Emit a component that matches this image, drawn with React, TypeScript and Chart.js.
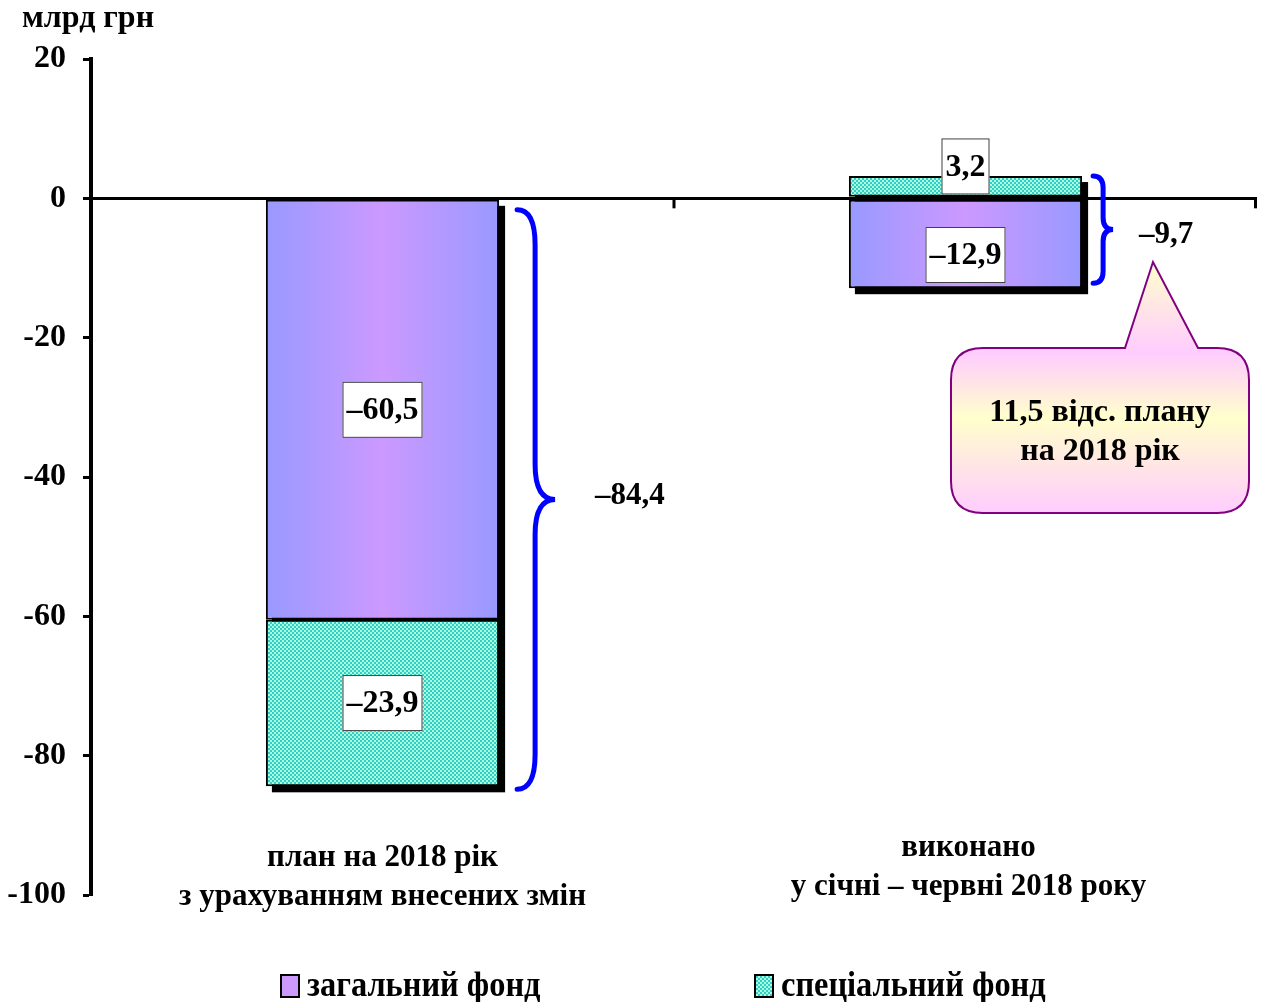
import { useEffect, useRef } from "react";
import { Chart, registerables } from "chart.js";

Chart.register(...registerables);

// ---------- data ----------
const categoryLines: string[][] = [
  ["план на 2018 рік", "з урахуванням внесених змін"],
  ["виконано", "у січні – червні 2018 року"],
];
const generalFund = [-60.5, -12.9];
const specialFund = [-23.9, 3.2];
const seriesNames = ["загальний фонд", "спеціальний фонд"];
const yMin = -100;
const yMax = 20;
const yStep = 20;
const unitLabel = "млрд грн";
const calloutSuffix = " відс. плану";
const calloutLine2 = "на 2018 рік";

const FONT = '"Liberation Serif", "Times New Roman", serif';

function fmt(v: number): string {
  const s = Math.abs(v).toFixed(1).replace(".", ",");
  return (v < 0 ? "–" : "") + s;
}

function makePattern(ctx: CanvasRenderingContext2D) {
  const c = document.createElement("canvas");
  c.width = 4;
  c.height = 4;
  const g = c.getContext("2d")!;
  g.fillStyle = "#A8FFD8";
  g.fillRect(0, 0, 4, 4);
  g.fillStyle = "#33CCCC";
  g.fillRect(0, 0, 2, 2);
  g.fillRect(2, 2, 2, 2);
  return ctx.createPattern(c, "repeat")!;
}

function gradientFor(c: any) {
  const chart = c.chart;
  const xs = chart.scales && chart.scales.x;
  if (!xs || !chart.chartArea) return "#CC99FF";
  const center = xs.getPixelForValue(c.dataIndex);
  const half = ((xs.width / categoryLines.length) * 0.4) / 2;
  const g = chart.ctx.createLinearGradient(center - half, 0, center + half, 0);
  g.addColorStop(0, "#9999FF");
  g.addColorStop(0.5, "#CC99FF");
  g.addColorStop(1, "#9999FF");
  return g;
}

function barExtent(chart: any, i: number) {
  let left = Infinity, right = -Infinity, top = Infinity, bottom = -Infinity;
  for (let d = 0; d < chart.data.datasets.length; d++) {
    const el: any = chart.getDatasetMeta(d).data[i];
    if (!el) continue;
    left = Math.min(left, el.x - el.width / 2);
    right = Math.max(right, el.x + el.width / 2);
    top = Math.min(top, el.y, el.base);
    bottom = Math.max(bottom, el.y, el.base);
  }
  return { left, right, top, bottom };
}

function drawBrace(ctx: CanvasRenderingContext2D, x: number, y0: number, y1: number, d1: number, d2: number, r: number) {
  const xm = x + d1;
  const tip = x + d1 + d2;
  const ym = (y0 + y1) / 2;
  const r2 = Math.min(r, (y1 - y0) / 4);
  ctx.beginPath();
  ctx.moveTo(x, y0);
  ctx.quadraticCurveTo(xm, y0, xm, y0 + r2);
  ctx.lineTo(xm, ym - r2);
  ctx.quadraticCurveTo(xm, ym, tip, ym);
  ctx.quadraticCurveTo(xm, ym, xm, ym + r2);
  ctx.lineTo(xm, y1 - r2);
  ctx.quadraticCurveTo(xm, y1, x, y1);
  ctx.strokeStyle = "#0000FF";
  ctx.lineWidth = 5;
  ctx.lineCap = "round";
  ctx.stroke();
}

function labelBox(ctx: CanvasRenderingContext2D, text: string, cx: number, cy: number) {
  ctx.font = `bold 32px ${FONT}`;
  const w = ctx.measureText(text).width + 8;
  const h = 56;
  ctx.fillStyle = "#FFFFFF";
  ctx.fillRect(cx - w / 2, cy - h / 2, w, h);
  ctx.strokeStyle = "#404040";
  ctx.lineWidth = 1;
  ctx.strokeRect(cx - w / 2 + 0.5, cy - h / 2 + 0.5, w - 1, h - 1);
  ctx.fillStyle = "#000";
  ctx.textAlign = "center";
  ctx.textBaseline = "middle";
  ctx.fillText(text, cx, cy + 1);
}

const shadowPlugin = {
  id: "shadow",
  beforeDatasetsDraw(chart: any) {
    const ctx = chart.ctx;
    ctx.save();
    ctx.fillStyle = "#000";
    for (let i = 0; i < categoryLines.length; i++) {
      const e = barExtent(chart, i);
      ctx.fillRect(e.left + 6, e.top + 6, e.right - e.left, e.bottom - e.top);
    }
    ctx.restore();
  },
};

const decorPlugin = {
  id: "decor",
  afterDraw(chart: any) {
    const ctx: CanvasRenderingContext2D = chart.ctx;
    const xs = chart.scales.x;
    const ys = chart.scales.y;
    const area = chart.chartArea;
    ctx.save();

    // x-axis tick marks at category boundaries
    const zeroY = ys.getPixelForValue(0);
    ctx.strokeStyle = "#000";
    ctx.lineWidth = 3;
    const catW = (area.right - area.left) / categoryLines.length;
    for (let i = 1; i <= categoryLines.length; i++) {
      const bx = Math.min(area.left + catW * i, area.right - 1.5);
      ctx.beginPath();
      ctx.moveTo(bx, zeroY);
      ctx.lineTo(bx, zeroY + 10);
      ctx.stroke();
    }

    // value labels
    const labelShift = [
      [0, 0],
      [11, -20],
    ];
    for (let d = 0; d < 2; d++) {
      const meta = chart.getDatasetMeta(d);
      const vals = d === 0 ? generalFund : specialFund;
      meta.data.forEach((el: any, i: number) => {
        const cy = (el.y + el.base) / 2 + labelShift[i][d];
        labelBox(ctx, fmt(vals[i]), el.x, cy);
      });
    }

    // braces and totals
    const totals = generalFund.map((g, i) => g + specialFund[i]);
    const braceCfg = [
      { gap: 18, d1: 18, d2: 20, r: 35, t: 10, b: 3, lx: 40, ly: -4 },
      { gap: 11, d1: 10, d2: 10, r: 12, t: 0, b: -5, lx: 26, ly: 5 },
    ];
    for (let i = 0; i < categoryLines.length; i++) {
      const e = barExtent(chart, i);
      const c = braceCfg[i];
      const y0 = e.top + c.t;
      const y1 = e.bottom + c.b;
      drawBrace(ctx, e.right + c.gap, y0, y1, c.d1, c.d2, c.r);
      ctx.font = `bold 31px ${FONT}`;
      ctx.fillStyle = "#000";
      ctx.textAlign = "left";
      ctx.textBaseline = "middle";
      ctx.fillText(fmt(totals[i]), e.right + c.gap + c.d1 + c.d2 + c.lx, (y0 + y1) / 2 + c.ly);
    }

    // callout
    const share = (totals[1] / totals[0]) * 100;
    const L = 951, R = 1249, T = 348, B = 513, rr = 32;
    const tipX = 1153, tipY = 262, baseL = 1125, baseR = 1198;
    ctx.beginPath();
    ctx.moveTo(L + rr, T);
    ctx.lineTo(baseL, T);
    ctx.lineTo(tipX, tipY);
    ctx.lineTo(baseR, T);
    ctx.lineTo(R - rr, T);
    ctx.quadraticCurveTo(R, T, R, T + rr);
    ctx.lineTo(R, B - rr);
    ctx.quadraticCurveTo(R, B, R - rr, B);
    ctx.lineTo(L + rr, B);
    ctx.quadraticCurveTo(L, B, L, B - rr);
    ctx.lineTo(L, T + rr);
    ctx.quadraticCurveTo(L, T, L + rr, T);
    ctx.closePath();
    const cg = ctx.createLinearGradient(0, tipY, 0, B);
    cg.addColorStop(0, "#FFFFCC");
    cg.addColorStop(0.36, "#FFCCFF");
    cg.addColorStop(0.62, "#FFFFCC");
    cg.addColorStop(1, "#FFCCFF");
    ctx.fillStyle = cg;
    ctx.fill();
    ctx.strokeStyle = "#800080";
    ctx.lineWidth = 2;
    ctx.stroke();
    ctx.fillStyle = "#000";
    ctx.font = `bold 32px ${FONT}`;
    ctx.textAlign = "center";
    ctx.textBaseline = "middle";
    ctx.fillText(share.toFixed(1).replace(".", ",") + calloutSuffix, (L + R) / 2, 413);
    ctx.fillText(calloutLine2, (L + R) / 2, 452);

    // category labels
    ctx.font = `bold 31px ${FONT}`;
    const catY = [858, 848];
    const catDx = [0, 3];
    categoryLines.forEach((lines, i) => {
      const cx = xs.getPixelForValue(i) + catDx[i];
      lines.forEach((ln, k) => ctx.fillText(ln, cx, catY[i] + k * 39));
    });

    // unit label
    ctx.textAlign = "left";
    ctx.font = `bold 32px ${FONT}`;
    ctx.fillText(unitLabel, 22, 19);

    // legend
    const legendX = [281, 755];
    const fills = [chart.data.datasets[0].legendFill, chart.data.datasets[1].backgroundColor];
    seriesNames.forEach((name, i) => {
      const x = legendX[i];
      ctx.fillStyle = fills[i];
      ctx.fillRect(x, 975, 18, 22);
      ctx.strokeStyle = "#000";
      ctx.lineWidth = 2;
      ctx.strokeRect(x, 975, 18, 22);
      ctx.fillStyle = "#000";
      ctx.font = `bold 36px ${FONT}`;
      ctx.save();
      ctx.translate(x + 26, 987);
      ctx.scale(0.9, 1);
      ctx.textAlign = "left";
      ctx.fillText(name, 0, 0);
      ctx.restore();
    });

    ctx.restore();
  },
};

export default function App() {
  const ref = useRef<HTMLCanvasElement>(null);
  useEffect(() => {
    const canvas = ref.current!;
    const pattern = makePattern(canvas.getContext("2d")!);
    const chart = new Chart(canvas, {
      type: "bar",
      data: {
        labels: categoryLines.map((l) => l.join(" ")),
        datasets: [
          {
            label: seriesNames[0],
            data: generalFund,
            backgroundColor: gradientFor as any,
            legendFill: "#CC99FF",
            borderColor: "#000",
            borderWidth: 2,
            borderSkipped: false,
            barPercentage: 0.4,
            categoryPercentage: 1,
          } as any,
          {
            label: seriesNames[1],
            data: specialFund,
            backgroundColor: pattern as any,
            borderColor: "#000",
            borderWidth: 2,
            borderSkipped: false,
            barPercentage: 0.4,
            categoryPercentage: 1,
          },
        ],
      },
      options: {
        responsive: false,
        animation: false,
        events: [],
        layout: { padding: { top: 59, bottom: 107, left: 0, right: 6 } },
        plugins: { legend: { display: false }, tooltip: { enabled: false } },
        scales: {
          x: { display: false, stacked: true, offset: true },
          y: {
            stacked: true,
            min: yMin,
            max: yMax,
            afterFit: (s: any) => {
              s.width = 91;
            },
            ticks: {
              stepSize: yStep,
              color: "#000",
              padding: 17,
              font: { family: FONT, size: 32, weight: "bold" },
              callback: (v: any) => String(v),
            },
            grid: {
              drawOnChartArea: true,
              color: (c: any) => (c.tick && c.tick.value === 0 ? "#000" : "rgba(0,0,0,0)"),
              lineWidth: (c: any) => (c.tick && c.tick.value === 0 ? 3 : 1),
              tickLength: 8,
              tickColor: "#000",
              tickWidth: 3,
            },
            border: { display: true, color: "#000", width: 4 },
          },
        },
      },
      plugins: [shadowPlugin, decorPlugin],
    });
    return () => chart.destroy();
  }, []);
  return (
    <div style={{ position: "absolute", left: 0, top: 0, width: 1263, height: 1002, background: "#fff" }}>
      <canvas ref={ref} width={1263} height={1002} style={{ display: "block" }} />
    </div>
  );
}
